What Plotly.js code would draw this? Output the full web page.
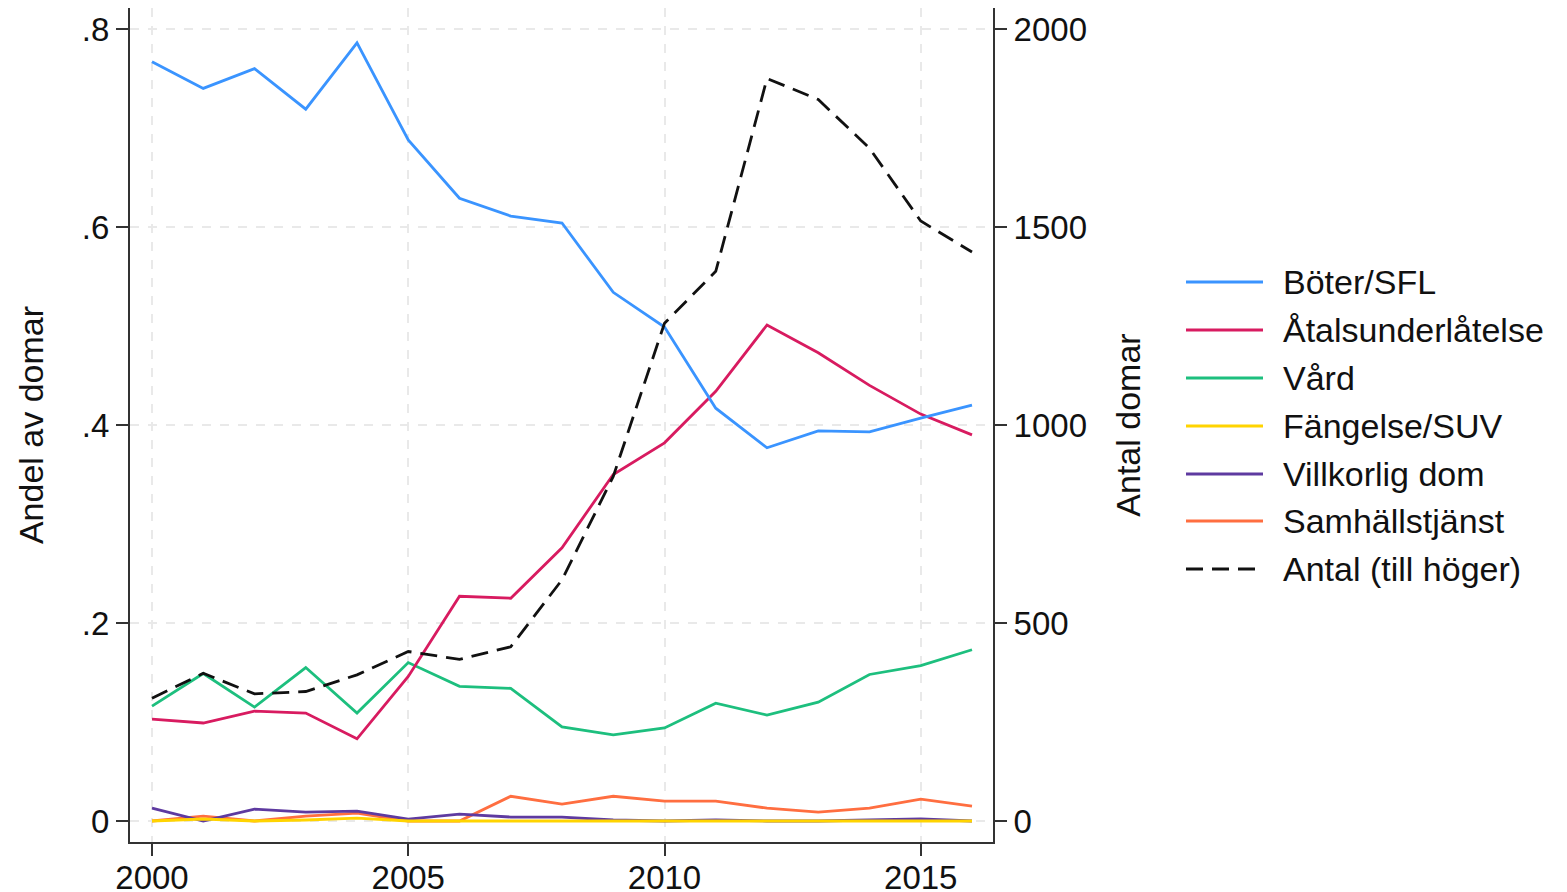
<!DOCTYPE html>
<html>
<head>
<meta charset="utf-8">
<script src="https://cdn.plot.ly/plotly-3.0.1.min.js"></script>
<style>html,body{margin:0;padding:0;background:#fff;}#chart{width:1567px;height:892px;}</style>
</head>
<body>
<div id="chart"></div>
<script>
const years = [2000,2001,2002,2003,2004,2005,2006,2007,2008,2009,2010,2011,2012,2013,2014,2015,2016];
const boter = [0.767,0.740,0.760,0.719,0.786,0.688,0.629,0.611,0.604,0.534,0.499,0.417,0.377,0.394,0.393,0.407,0.420];
const atal = [0.103,0.099,0.111,0.109,0.083,0.146,0.227,0.225,0.276,0.350,0.382,0.434,0.501,0.473,0.440,0.411,0.390];
const vard = [0.116,0.149,0.115,0.155,0.109,0.160,0.136,0.134,0.095,0.087,0.094,0.119,0.107,0.120,0.148,0.157,0.173];
const fangelse = [0.000,0.002,0.000,0.001,0.003,0.000,0.000,0.000,0.000,0.000,0.000,0.000,0.000,0.000,0.000,0.000,0.000];
const villkorlig = [0.013,0.000,0.012,0.009,0.010,0.002,0.007,0.004,0.004,0.001,0.000,0.001,0.000,0.000,0.001,0.002,0.000];
const samhall = [0.000,0.005,0.000,0.005,0.008,0.000,0.000,0.025,0.017,0.025,0.020,0.020,0.013,0.009,0.013,0.022,0.015];
const antal = [310,373,321,327,369,428,408,440,609,870,1257,1388,1875,1822,1699,1515,1437];

const seriesNames = ["Böter/SFL","Åtalsunderlåtelse","Vård","Fängelse/SUV","Villkorlig dom","Samhällstjänst","Antal (till höger)"];
const seriesColors = ["#3a94ff","#d81b60","#1dbf7e","#ffd400","#5e3aa0","#ff6e40","#111111"];
const leftTickVals = [0,0.2,0.4,0.6,0.8];
const leftTickText = ["0",".2",".4",".6",".8"];
const rightTickVals = [0,500,1000,1500,2000];
const xTickVals = [2000,2005,2010,2015];

const FONT = "Liberation Sans, Arial, sans-serif";
const TICKSIZE = 33, TEXTSIZE = 34;
const shareData = [boter, atal, vard, fangelse, villkorlig, samhall];

const traces = [];
const order = [5,4,3,2,1,0];
order.forEach(i => {
  traces.push({
    x: years, y: shareData[i], type: 'scatter', mode: 'lines', name: seriesNames[i],
    line: {color: seriesColors[i], width: 2.8}, showlegend: false, xaxis: 'x', yaxis: 'y'
  });
});
traces.push({
  x: years, y: antal, type: 'scatter', mode: 'lines', name: seriesNames[6],
  line: {color: seriesColors[6], width: 2.8, dash: '17px,9px'}, showlegend: false, xaxis: 'x', yaxis: 'y2'
});

const L = 130, R = 993, T = 8, B = 842;
const W = R - L, H = B - T;
const px2x = p => (p - L) / W;
const py2y = p => (B - p) / H;
const legendY = [282,330,378,426,474,521,569];
const shapes = [];
const annotations = [];
seriesNames.forEach((n, i) => {
  shapes.push({type:'line', xref:'paper', yref:'paper',
    x0: px2x(1186), x1: px2x(1263), y0: py2y(legendY[i]), y1: py2y(legendY[i]),
    line:{color: seriesColors[i], width: 2.8, dash: i === 6 ? '17px,9px' : 'solid'}});
  annotations.push({xref:'paper', yref:'paper', x: px2x(1281), y: py2y(legendY[i]),
    xanchor:'left', yanchor:'middle', text: n, showarrow:false,
    font:{family: FONT, size: TEXTSIZE, color:'#111'}});
});

const gridCol = '#e9e9e9';
const layout = {
  width: 1567, height: 892,
  margin: {l: L, r: 1567 - R, t: T, b: 892 - B},
  paper_bgcolor: '#fff', plot_bgcolor: '#fff',
  font: {family: FONT, size: TICKSIZE, color: '#111'},
  showlegend: false,
  xaxis: {
    range: [2000 - 22/51.25, 2016 + 21/51.25], tickvals: xTickVals, ticktext: xTickVals.map(String),
    ticks: 'outside', ticklen: 12, tickwidth: 2, tickcolor: '#333', ticklabelstandoff: -7,
    showline: true, linecolor: '#333', linewidth: 2,
    showgrid: true, gridcolor: gridCol, gridwidth: 2, griddash: 'dash',
    zeroline: false, tickfont: {family: FONT, size: TICKSIZE, color: '#111'}
  },
  yaxis: {
    range: [-21/990, 0.8 + 21/990], tickvals: leftTickVals, ticktext: leftTickText,
    ticks: 'outside', ticklen: 12, tickwidth: 2, tickcolor: '#333',
    showline: true, linecolor: '#333', linewidth: 2,
    showgrid: true, gridcolor: gridCol, gridwidth: 2, griddash: 'dash',
    zeroline: false, tickfont: {family: FONT, size: TICKSIZE, color: '#111'},
    title: {text: 'Andel av domar', font: {family: FONT, size: TEXTSIZE, color: '#111'}, standoff: 28}
  },
  yaxis2: {
    overlaying: 'y', side: 'right', anchor: 'x',
    range: [-21*2000/792, 2000 + 21*2000/792], tickvals: rightTickVals, ticktext: rightTickVals.map(String),
    ticks: 'outside', ticklen: 12, tickwidth: 2, tickcolor: '#333',
    showline: true, linecolor: '#333', linewidth: 2,
    showgrid: false, zeroline: false, tickfont: {family: FONT, size: TICKSIZE, color: '#111'},
    title: {text: 'Antal domar', font: {family: FONT, size: TEXTSIZE, color: '#111'}, standoff: 30}
  },
  shapes: shapes,
  annotations: annotations
};

Plotly.newPlot('chart', traces, layout, {displayModeBar: false, staticPlot: true});
</script>
</body>
</html>
